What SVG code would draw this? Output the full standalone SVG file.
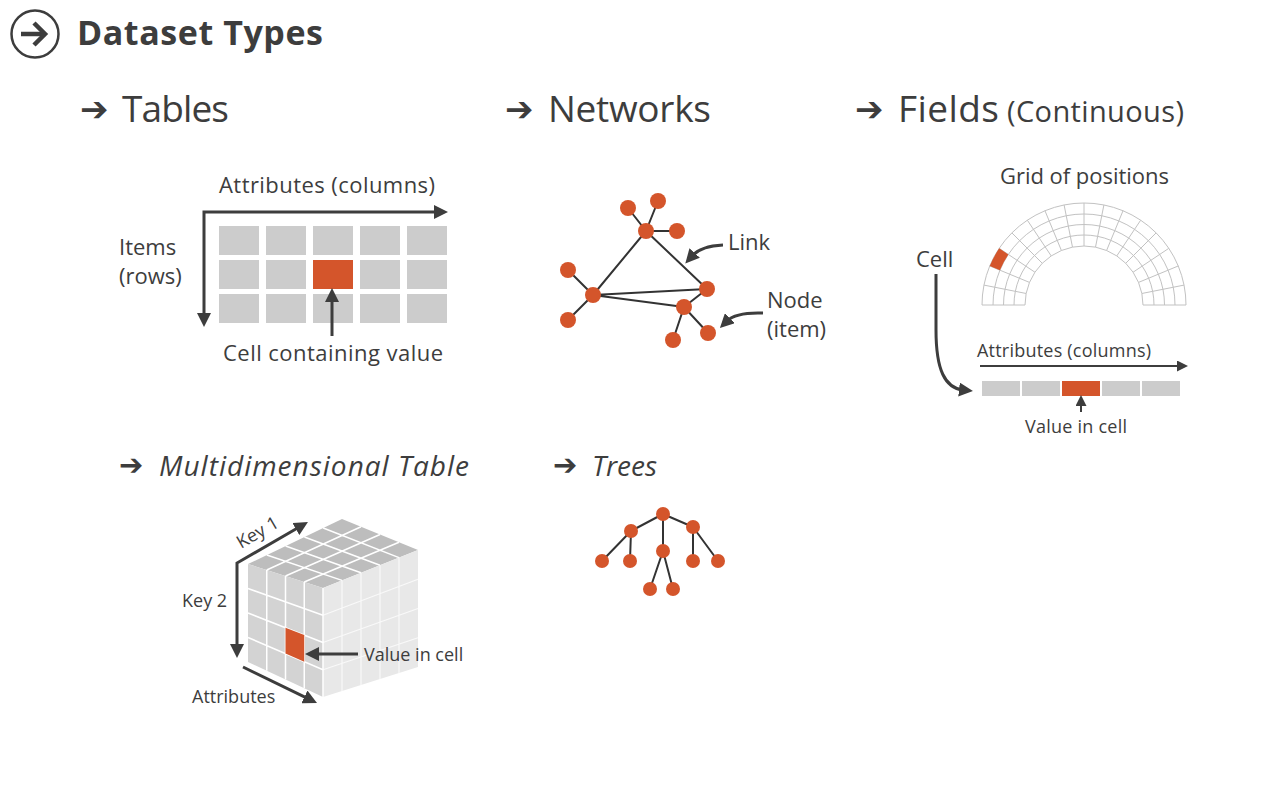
<svg xmlns="http://www.w3.org/2000/svg" width="1272" height="788" viewBox="0 0 1272 788">
<style>
  text { font-family: "Open Sans", "Noto Sans", "DejaVu Sans", sans-serif; fill: #3d3d3d; }
  .h1 { font-size: 34px; font-weight: 700; }
  .h2 { font-size: 37px; }
  .h2s { font-size: 29px; }
  .h3 { font-size: 28px; font-style: italic; }
  .bul { font-family: "DejaVu Sans", sans-serif; font-weight: 700; }
  .lbl { font-size: 22px; }
  .sm { font-size: 18px; }
  .cell { fill: #cccccc; }
  .hl { fill: #d4552b; }
  .nd { fill: #d4552b; }
  .edge { stroke: #333333; stroke-width: 2; fill: none; }
  .arr { stroke: #3d3d3d; stroke-width: 3; fill: none; }
  .arr2 { stroke: #3d3d3d; stroke-width: 2; fill: none; }
  .arc { stroke: #c2c2c2; stroke-width: 1; fill: none; }
  .wl { stroke: #ffffff; stroke-width: 1.5; fill: none; }
  .wl2 { stroke: #f9f9f9; stroke-width: 1.2; fill: none; }
</style>
<defs>
  <marker id="ha" markerUnits="userSpaceOnUse" markerWidth="14" markerHeight="14" viewBox="0 0 14 14" refX="4" refY="7" orient="auto">
    <path d="M0,0 L14,7 L0,14 z" fill="#3d3d3d"/>
  </marker>
  <marker id="has" markerUnits="userSpaceOnUse" markerWidth="14" markerHeight="14" viewBox="0 0 14 14" refX="4" refY="7" orient="auto-start-reverse">
    <path d="M0,0 L14,7 L0,14 z" fill="#3d3d3d"/>
  </marker>
  <marker id="hb" markerUnits="userSpaceOnUse" markerWidth="11" markerHeight="11" viewBox="0 0 11 11" refX="3" refY="5.5" orient="auto">
    <path d="M0,0 L11,5.5 L0,11 z" fill="#3d3d3d"/>
  </marker>
</defs>
<rect x="0" y="0" width="1272" height="788" fill="#ffffff"/>

<g id="title">
  <circle cx="35" cy="34" r="23.5" fill="none" stroke="#3d3d3d" stroke-width="2.5"/>
  <path d="M21,34 H45" stroke="#3d3d3d" stroke-width="4.5" fill="none"/>
  <path d="M34,23 L45,34 L34,45" stroke="#3d3d3d" stroke-width="4.5" fill="none" stroke-linejoin="miter"/>
  <text class="h1" x="77" y="45" textLength="246">Dataset Types</text>
</g>

<g id="heading-tables">
  <text class="bul" x="80" y="121" font-size="34">➔</text>
  <text class="h2" x="122" y="122" textLength="107">Tables</text>
</g>
<g id="heading-networks">
  <text class="bul" x="505" y="121" font-size="34">➔</text>
  <text class="h2" x="548" y="122" textLength="163">Networks</text>
</g>
<g id="heading-fields">
  <text class="bul" x="855" y="121" font-size="34">➔</text>
  <text class="h2" x="898" y="122" textLength="101">Fields</text>
  <text class="h2s" x="1007" y="122" textLength="177">(Continuous)</text>
</g>
<g id="heading-multidim">
  <text class="bul" x="119" y="475" font-size="29">➔</text>
  <text class="h3" x="159" y="476" textLength="310">Multidimensional Table</text>
</g>
<g id="heading-trees">
  <text class="bul" x="553" y="475" font-size="29">➔</text>
  <text class="h3" x="592" y="476" textLength="65">Trees</text>
</g>

<g id="table">
  <rect class="cell" x="219" y="226" width="40" height="29"/>
  <rect class="cell" x="266" y="226" width="40" height="29"/>
  <rect class="cell" x="313" y="226" width="40" height="29"/>
  <rect class="cell" x="360" y="226" width="40" height="29"/>
  <rect class="cell" x="407" y="226" width="40" height="29"/>
  <rect class="cell" x="219" y="260" width="40" height="29"/>
  <rect class="cell" x="266" y="260" width="40" height="29"/>
  <rect class="hl" x="313" y="260" width="40" height="29"/>
  <rect class="cell" x="360" y="260" width="40" height="29"/>
  <rect class="cell" x="407" y="260" width="40" height="29"/>
  <rect class="cell" x="219" y="294" width="40" height="29"/>
  <rect class="cell" x="266" y="294" width="40" height="29"/>
  <rect class="cell" x="313" y="294" width="40" height="29"/>
  <rect class="cell" x="360" y="294" width="40" height="29"/>
  <rect class="cell" x="407" y="294" width="40" height="29"/>
  <text class="lbl" x="219" y="193" textLength="216">Attributes (columns)</text>
  <text class="lbl" x="119" y="255">Items</text>
  <text class="lbl" x="119" y="284">(rows)</text>
  <text class="lbl" x="223" y="361" textLength="220">Cell containing value</text>
</g>

<g id="field-grid">
  <path class="arc" d="M1025,305 A59,59 0 0 1 1143,305"/>
  <path class="arc" d="M1014,305 A70,70 0 0 1 1154,305"/>
  <path class="arc" d="M1003.5,305 A80.5,80.5 0 0 1 1164.5,305"/>
  <path class="arc" d="M993,305 A91,91 0 0 1 1175,305"/>
  <path class="arc" d="M982,305 A102,102 0 0 1 1186,305"/>
  <path class="arc" d="M1143,305 L1186,305 M1141.87,293.49 L1184.04,285.10 M1138.51,282.42 L1178.24,265.97 M1133.06,272.22 L1168.81,248.33 M1125.72,263.28 L1156.12,232.88 M1116.78,255.94 L1140.67,220.19 M1106.58,250.49 L1123.03,210.76 M1095.51,247.13 L1103.90,204.96 M1084,246 L1084,203 M1072.49,247.13 L1064.10,204.96 M1061.42,250.49 L1044.97,210.76 M1051.22,255.94 L1027.33,220.19 M1042.28,263.28 L1011.88,232.88 M1034.94,272.22 L999.19,248.33 M1029.49,282.42 L989.76,265.97 M1026.13,293.49 L983.96,285.10 M1025,305 L982,305"/>
  <path class="hl" d="M999.19,248.33 A102,102 0 0 0 989.76,265.97 L999.93,270.17 A91,91 0 0 1 1008.33,254.44 Z"/>
  <text class="lbl" x="1000" y="184" textLength="169">Grid of positions</text>
  <text class="lbl" x="916" y="267">Cell</text>
</g>

<g id="field-bar">
  <rect class="cell" x="982" y="381" width="38" height="15"/>
  <rect class="cell" x="1022" y="381" width="38" height="15"/>
  <rect class="hl" x="1062" y="381" width="38" height="15"/>
  <rect class="cell" x="1102" y="381" width="38" height="15"/>
  <rect class="cell" x="1142" y="381" width="38" height="15"/>
  <text class="sm" x="977" y="357" textLength="174">Attributes (columns)</text>
  <text class="sm" x="1025" y="433" textLength="102">Value in cell</text>
</g>

<g id="cube">
  <path d="M248,564 L342,519 L418,550 L323,588 Z" fill="#bdbdbd"/>
  <path d="M248,564 L323,588 L323,697 L248,662 Z" fill="#d3d3d3"/>
  <path d="M323,588 L418,550 L418,667 L323,697 Z" fill="#e8e8e8"/>
  <path class="wl" d="M266.8,555 L342,580.4 M285.6,546 L361,572.8 M304.4,537 L380,565.2 M323.2,528 L399,557.6 M266.75,570 L361,526.75 M285.5,576 L380,534.5 M304.25,582 L399,542.25"/>
  <path class="wl" d="M266.75,570 L266.75,670.75 M285.5,576 L285.5,679.5 M304.25,582 L304.25,688.25 M248,588.5 L323,615.25 M248,613 L323,642.5 M248,637.5 L323,669.75"/>
  <path class="wl2" d="M342,580.4 L342,691 M361,572.8 L361,685 M380,565.2 L380,679 M399,557.6 L399,673 M323,615.25 L418,579.25 M323,642.5 L418,608.5 M323,669.75 L418,637.75"/>
  <path class="wl" d="M323,588 L323,697"/>
  <path class="hl" d="M285.5,627.75 L304.25,635.1 L304.25,661.7 L285.5,653.6 Z"/>
  <text class="sm" transform="translate(241,549) rotate(-30)">Key 1</text>
  <text class="sm" x="182" y="607">Key 2</text>
  <text class="sm" x="192" y="703">Attributes</text>
  <text class="sm" x="364" y="661">Value in cell</text>
</g>

<g id="connectors">
  <path class="arr" d="M204,317 V212 H438" marker-start="url(#has)" marker-end="url(#ha)"/>
  <path class="arr" d="M332,336 V298" marker-end="url(#ha)"/>
  <g class="edge">
    <path d="M646,231 L628,208 M646,231 L658,201 M646,231 L677,231 M646,231 L593,295 M646,231 L707,289 M593,295 L568,270 M593,295 L568,320 M593,295 L707,289 M593,295 L684,307 M707,289 L684,307 M684,307 L673,340 M684,307 L708,333"/>
    <path d="M663,514 L631,531 M663,514 L663,551 M663,514 L693,527 M631,531 L602,561 M631,531 L630,561 M663,551 L650,589 M663,551 L673,589 M693,527 L693,561 M693,527 L718,561"/>
  </g>
  <path class="arr" stroke-width="3.5" d="M723,245 Q701,246 692,256" marker-end="url(#ha)"/>
  <path class="arr" stroke-width="3.5" d="M763,313 Q736,312 727,321" marker-end="url(#ha)"/>
  <path class="arr" stroke-width="2.5" d="M936,274 L936,330 C936,370 945,388 963,390" marker-end="url(#ha)"/>
  <path class="arr2" d="M980,366 H1180" marker-end="url(#hb)"/>
  <path class="arr2" d="M1081,412 V403" marker-end="url(#hb)"/>
  <path class="arr" stroke-width="2.5" d="M299.3,527 L237,563 L237,648" marker-start="url(#has)" marker-end="url(#ha)"/>
  <path class="arr" stroke-width="2.5" d="M243,667 L308,698.6" marker-end="url(#ha)"/>
  <path class="arr" stroke-width="2.5" d="M358,654 L315,654" marker-end="url(#ha)"/>
</g>

<g id="network">
  <circle class="nd" cx="628" cy="208" r="8"/>
  <circle class="nd" cx="658" cy="201" r="8"/>
  <circle class="nd" cx="646" cy="231" r="8"/>
  <circle class="nd" cx="677" cy="231" r="8"/>
  <circle class="nd" cx="568" cy="270" r="8"/>
  <circle class="nd" cx="593" cy="295" r="8"/>
  <circle class="nd" cx="568" cy="320" r="8"/>
  <circle class="nd" cx="707" cy="289" r="8"/>
  <circle class="nd" cx="684" cy="307" r="8"/>
  <circle class="nd" cx="673" cy="340" r="8"/>
  <circle class="nd" cx="708" cy="333" r="8"/>
  <text class="lbl" x="728" y="250">Link</text>
  <text class="lbl" x="767" y="308">Node</text>
  <text class="lbl" x="767" y="337">(item)</text>
</g>

<g id="tree">
  <circle class="nd" cx="663" cy="514" r="7"/>
  <circle class="nd" cx="631" cy="531" r="7"/>
  <circle class="nd" cx="663" cy="551" r="7"/>
  <circle class="nd" cx="693" cy="527" r="7"/>
  <circle class="nd" cx="602" cy="561" r="7"/>
  <circle class="nd" cx="630" cy="561" r="7"/>
  <circle class="nd" cx="650" cy="589" r="7"/>
  <circle class="nd" cx="673" cy="589" r="7"/>
  <circle class="nd" cx="693" cy="561" r="7"/>
  <circle class="nd" cx="718" cy="561" r="7"/>
</g>
</svg>
